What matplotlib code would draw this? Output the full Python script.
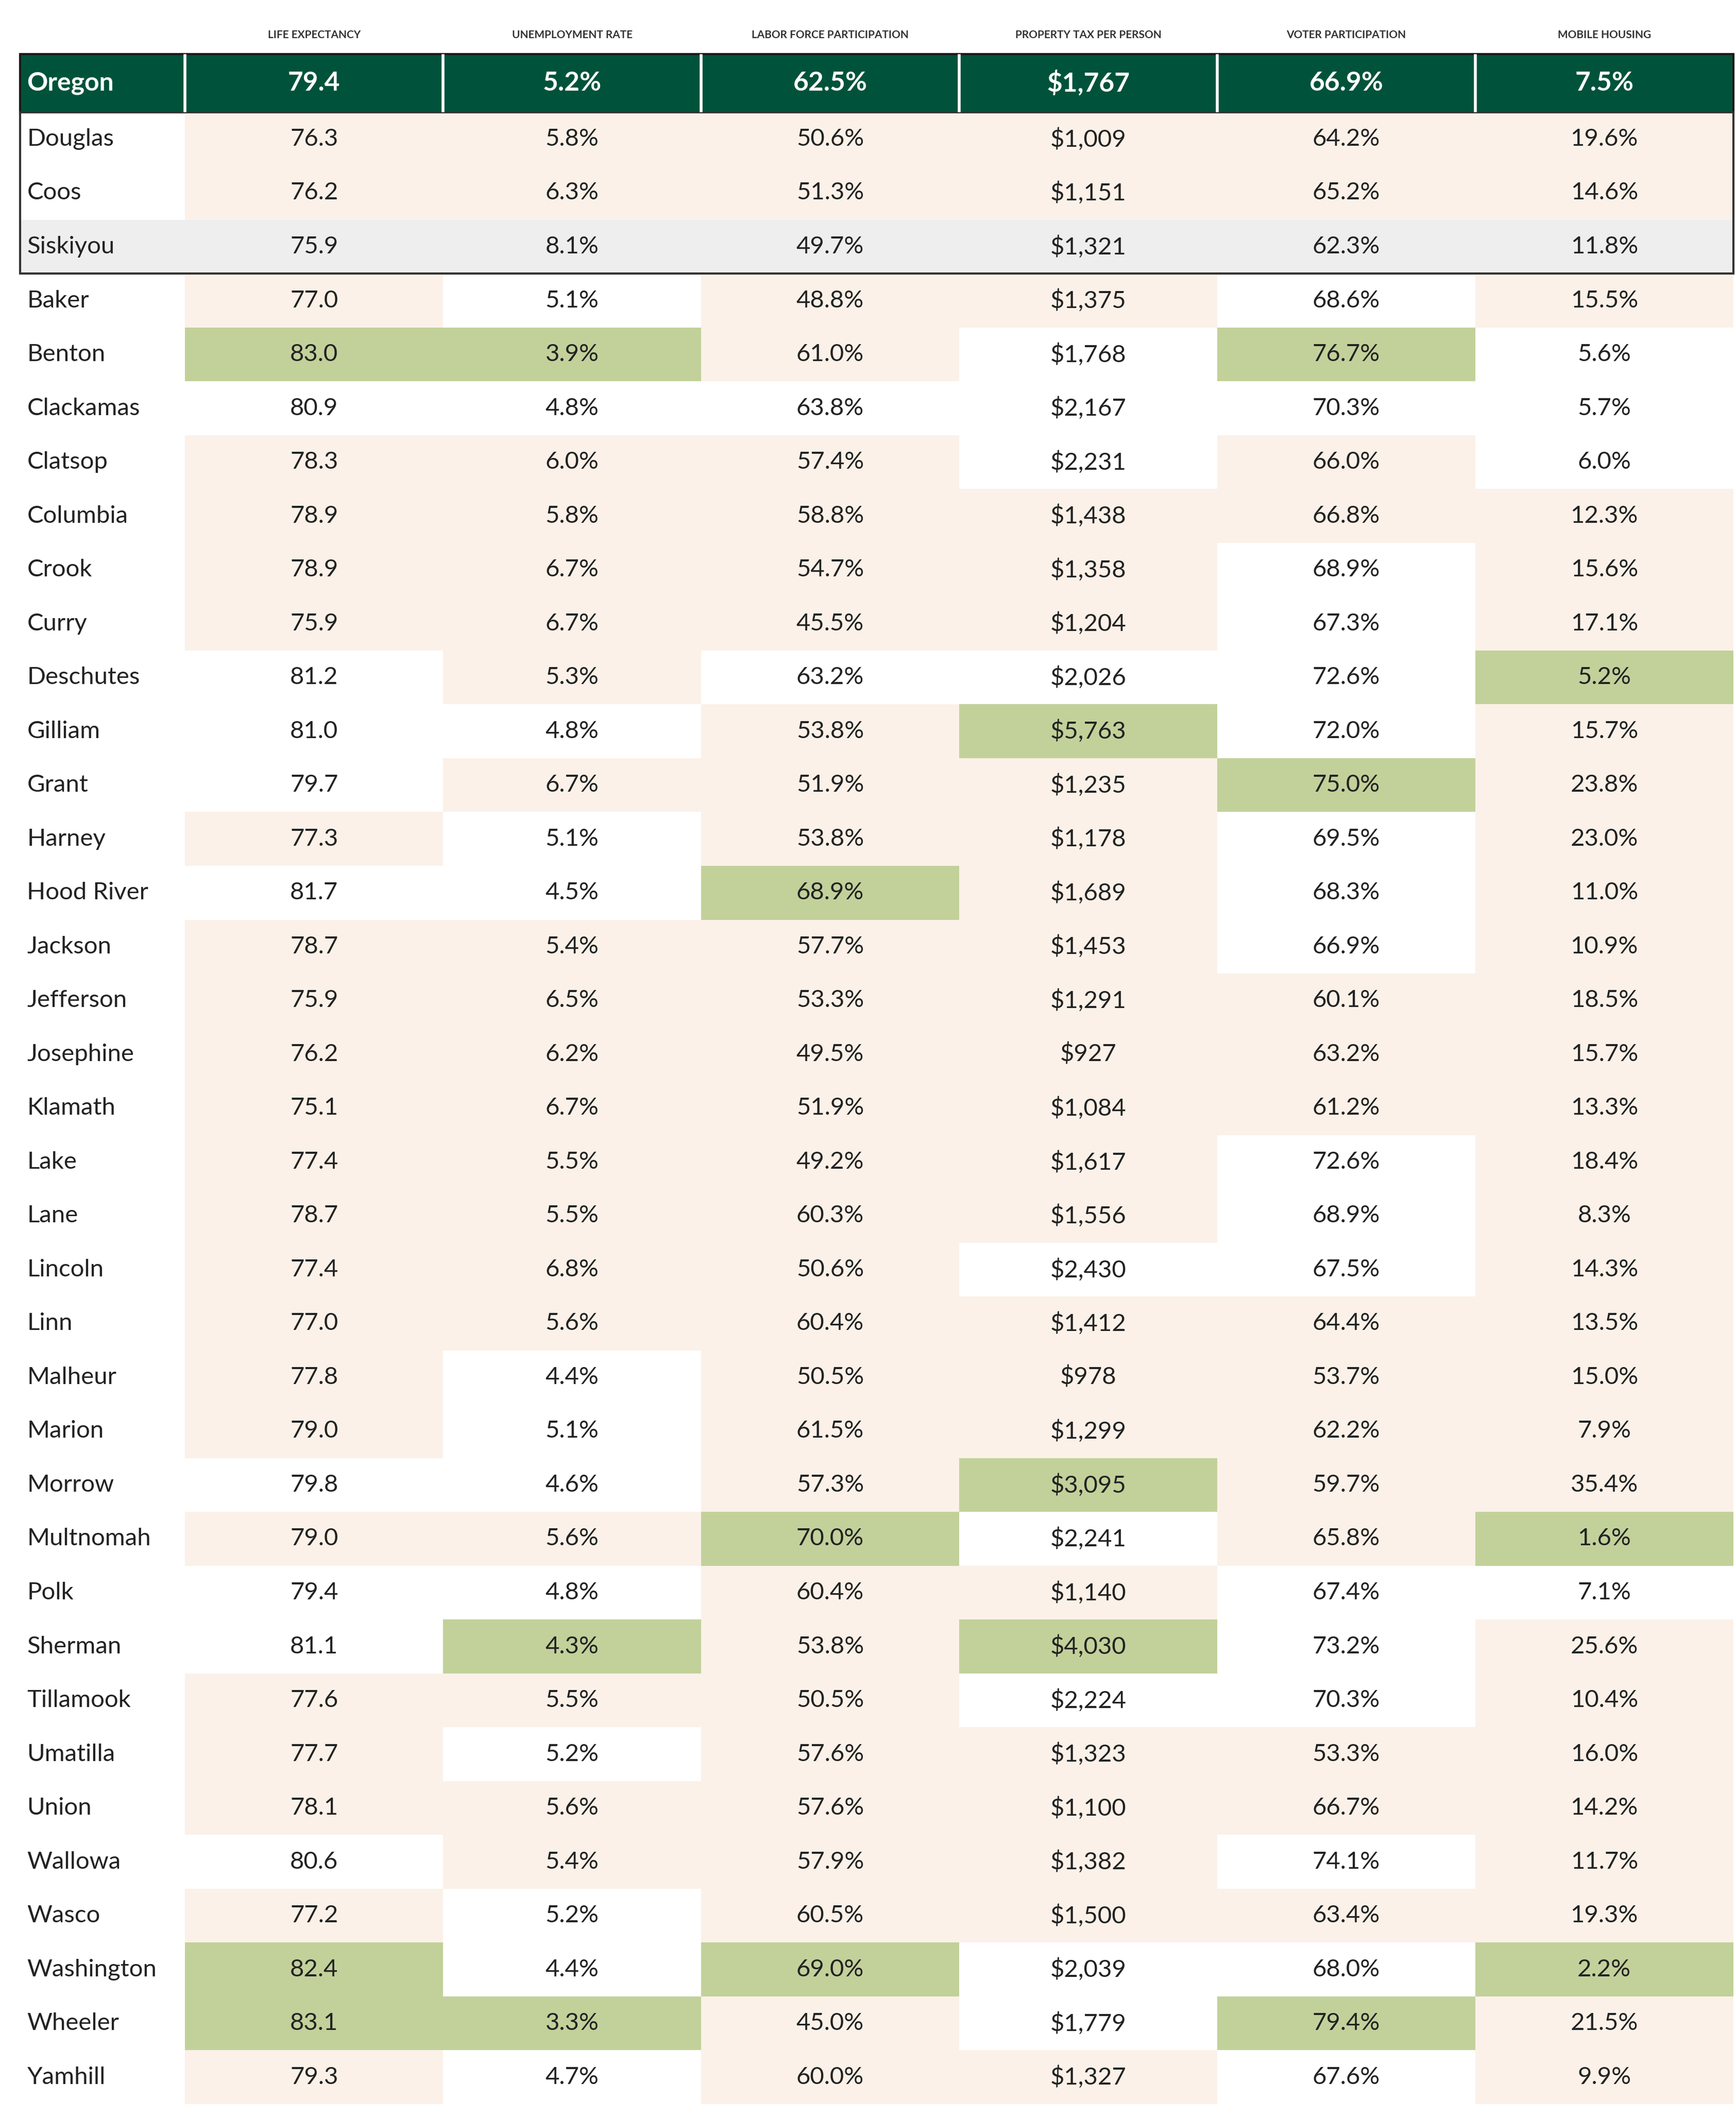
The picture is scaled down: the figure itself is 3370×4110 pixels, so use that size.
import matplotlib.pyplot as plt
from matplotlib.patches import Rectangle

plt.rcParams['font.family'] = ['Lato', 'DejaVu Sans']

headers = ["LIFE EXPECTANCY", "UNEMPLOYMENT RATE", "LABOR FORCE PARTICIPATION",
           "PROPERTY TAX PER PERSON", "VOTER PARTICIPATION", "MOBILE HOUSING"]
higher_better = [True, False, True, True, True, False]

state = ["Oregon", 79.4, 5.2, 62.5, 1767, 66.9, 7.5]
compare = [
    ["Douglas", 76.3, 5.8, 50.6, 1009, 64.2, 19.6],
    ["Coos", 76.2, 6.3, 51.3, 1151, 65.2, 14.6],
    ["Siskiyou", 75.9, 8.1, 49.7, 1321, 62.3, 11.8],
]
counties = [
    ["Baker", 77.0, 5.1, 48.8, 1375, 68.6, 15.5],
    ["Benton", 83.0, 3.9, 61.0, 1768, 76.7, 5.6],
    ["Clackamas", 80.9, 4.8, 63.8, 2167, 70.3, 5.7],
    ["Clatsop", 78.3, 6.0, 57.4, 2231, 66.0, 6.0],
    ["Columbia", 78.9, 5.8, 58.8, 1438, 66.8, 12.3],
    ["Crook", 78.9, 6.7, 54.7, 1358, 68.9, 15.6],
    ["Curry", 75.9, 6.7, 45.5, 1204, 67.3, 17.1],
    ["Deschutes", 81.2, 5.3, 63.2, 2026, 72.6, 5.2],
    ["Gilliam", 81.0, 4.8, 53.8, 5763, 72.0, 15.7],
    ["Grant", 79.7, 6.7, 51.9, 1235, 75.0, 23.8],
    ["Harney", 77.3, 5.1, 53.8, 1178, 69.5, 23.0],
    ["Hood River", 81.7, 4.5, 68.9, 1689, 68.3, 11.0],
    ["Jackson", 78.7, 5.4, 57.7, 1453, 66.9, 10.9],
    ["Jefferson", 75.9, 6.5, 53.3, 1291, 60.1, 18.5],
    ["Josephine", 76.2, 6.2, 49.5, 927, 63.2, 15.7],
    ["Klamath", 75.1, 6.7, 51.9, 1084, 61.2, 13.3],
    ["Lake", 77.4, 5.5, 49.2, 1617, 72.6, 18.4],
    ["Lane", 78.7, 5.5, 60.3, 1556, 68.9, 8.3],
    ["Lincoln", 77.4, 6.8, 50.6, 2430, 67.5, 14.3],
    ["Linn", 77.0, 5.6, 60.4, 1412, 64.4, 13.5],
    ["Malheur", 77.8, 4.4, 50.5, 978, 53.7, 15.0],
    ["Marion", 79.0, 5.1, 61.5, 1299, 62.2, 7.9],
    ["Morrow", 79.8, 4.6, 57.3, 3095, 59.7, 35.4],
    ["Multnomah", 79.0, 5.6, 70.0, 2241, 65.8, 1.6],
    ["Polk", 79.4, 4.8, 60.4, 1140, 67.4, 7.1],
    ["Sherman", 81.1, 4.3, 53.8, 4030, 73.2, 25.6],
    ["Tillamook", 77.6, 5.5, 50.5, 2224, 70.3, 10.4],
    ["Umatilla", 77.7, 5.2, 57.6, 1323, 53.3, 16.0],
    ["Union", 78.1, 5.6, 57.6, 1100, 66.7, 14.2],
    ["Wallowa", 80.6, 5.4, 57.9, 1382, 74.1, 11.7],
    ["Wasco", 77.2, 5.2, 60.5, 1500, 63.4, 19.3],
    ["Washington", 82.4, 4.4, 69.0, 2039, 68.0, 2.2],
    ["Wheeler", 83.1, 3.3, 45.0, 1779, 79.4, 21.5],
    ["Yamhill", 79.3, 4.7, 60.0, 1327, 67.6, 9.9],
]

DARK = "#00533a"
CREAM = "#fbf1e8"
GREEN = "#c2d19a"
GRAY = "#eeeeee"
TXT = "#222222"


def fmt(j, v):
    if j == 0:
        return f"{v:.1f}"
    if j == 3:
        return f"${v:,.0f}"
    return f"{v:.1f}%"


# top three counties per column
top3 = []
for j in range(6):
    vals = sorted([r[j + 1] for r in counties], reverse=higher_better[j])
    top3.append(vals[2])


def cell_color(j, v, top=True):
    hb = higher_better[j]
    if top and ((hb and v >= top3[j]) or (not hb and v <= top3[j])):
        return GREEN
    better = v >= state[j + 1] if hb else v <= state[j + 1]
    return "white" if better else CREAM


fig = plt.figure(figsize=(33.7, 41.1), dpi=100)
ax = fig.add_axes([0, 0, 1, 1])
ax.set_xlim(0, 1285)
ax.set_ylim(1567, 0)
ax.axis("off")

x0, xn = 15, 1283
cw = (xn - 137) / 6
cols = [137 + i * cw for i in range(7)]
rh = 39.85
FS = 34

for j, h in enumerate(headers):
    ax.text(cols[j] + cw / 2, 26, h, ha="center", va="center", fontsize=15,
            fontweight="bold", color="#333333")

# state row
ax.add_patch(Rectangle((x0, 40), xn - x0, 43, facecolor=DARK, edgecolor="#1a1a1a", lw=3))
for c in cols[:-1]:
    ax.plot([c, c], [41, 82], color="white", lw=4)
ax.text(20, 61.5, state[0], ha="left", va="center", fontsize=36, fontweight="bold", color="white")
for j in range(6):
    ax.text(cols[j] + cw / 2, 61.5, fmt(j, state[j + 1]), ha="center", va="center",
            fontsize=37, fontweight="bold", color="white")

y = 83
for k, r in enumerate(compare + counties):
    gray = r[0] == "Siskiyou"
    if gray:
        ax.add_patch(Rectangle((x0, y), xn - x0, rh, facecolor=GRAY, lw=0))
    for j in range(6):
        fc = GRAY if gray else cell_color(j, r[j + 1], top=k >= len(compare))
        if not gray:
            ax.add_patch(Rectangle((cols[j], y), cw, rh, facecolor=fc, lw=0))
        ax.text(cols[j] + cw / 2, y + rh / 2, fmt(j, r[j + 1]), ha="center",
                va="center", fontsize=FS, color=TXT)
    ax.text(20, y + rh / 2, r[0], ha="left", va="center", fontsize=FS, color=TXT)
    y += rh

ax.add_patch(Rectangle((x0, 83), xn - x0, rh * 3, facecolor="none", edgecolor="#333333", lw=3))

fig.savefig("out.png", dpi=100)
